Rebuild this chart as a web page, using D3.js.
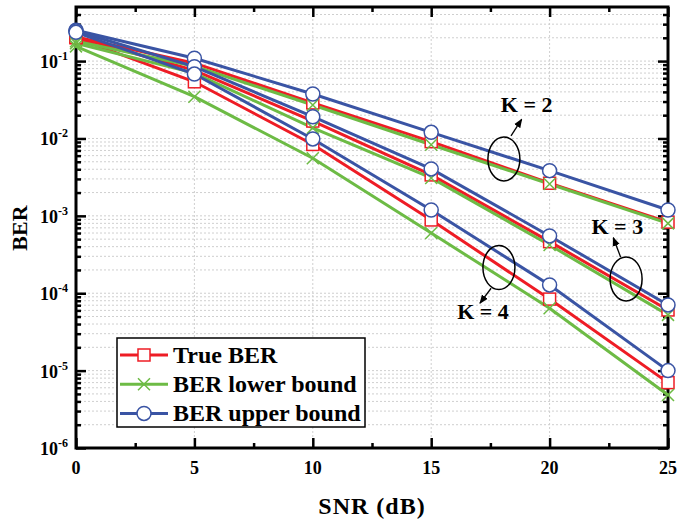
<!DOCTYPE html>
<html><head><meta charset="utf-8">
<script src="https://cdn.jsdelivr.net/npm/d3@7"></script>
<style>
html,body{margin:0;padding:0;background:#fff;}
svg{display:block;}
text{font-family:"Liberation Serif","Times New Roman",serif;font-weight:bold;fill:#000;}
</style></head>
<body>
<svg id="chart" width="677" height="519"></svg>
<script>
// ---- data ----
const snr = [0, 5, 10, 15, 20, 25];
const trueK2  = [0.205, 0.094, 0.0288, 0.0091, 0.00264, 0.00083];
const lowerK2 = [0.180, 0.086, 0.0271, 0.0083, 0.00258, 0.00080];
const upperK2 = [0.250, 0.109, 0.0376, 0.0120, 0.00384, 0.00119];
const trueK3  = [0.205, 0.076, 0.0168, 0.00338, 0.000464, 0.0000608];
const lowerK3 = [0.170, 0.070, 0.0137, 0.00309, 0.000420, 0.0000525];
const upperK3 = [0.245, 0.0847, 0.0191, 0.00404, 0.000550, 0.0000706];
const trueK4  = [0.200, 0.054, 0.00837, 0.000885, 0.0000840, 0.0000070];
const lowerK4 = [0.155, 0.0347, 0.00555, 0.000601, 0.0000640, 0.00000485];
const upperK4 = [0.235, 0.068, 0.00986, 0.00119, 0.000128, 0.0000100];
const seriesNames = ["True BER", "BER lower bound", "BER upper bound"];
const xTickValues = [0, 5, 10, 15, 20, 25];
const yTickExponents = [-6, -5, -4, -3, -2, -1];
const kLabels = ["K = 2", "K = 3", "K = 4"];
// annotation anchors in data space: ellipse centre, arrow start, arrow tip, label
const annotK2 = {c:[18.07, 5.43e-3], a0:[18.37, 1.08e-2], a1:[18.82, 1.77e-2], t:[19.03, 0.022]};
const annotK3 = {c:[23.23, 1.53e-4], a0:[23.00, 2.92e-4], a1:[22.69, 5.22e-4], t:[22.86, 5.83e-4]};
const annotK4 = {c:[17.86, 2.15e-4], a0:[17.53, 1.16e-4], a1:[17.06, 7.43e-5], t:[17.19, 4.61e-5]};

// ---- setup ----
const svg = d3.select("#chart");
const L = 76, R = 668, T = 7, B = 448;
const x = d3.scaleLinear().domain([0, 25]).range([L, R]);
const y = d3.scaleLog().domain([1e-6, 0.5]).range([B, T]);
const colors = {"True BER":"#ee1c25", "BER lower bound":"#6dbb45", "BER upper bound":"#3a54a4"};

// gridlines
const minorY = [];
for (let e = -6; e <= -1; e++) for (let k = 1; k <= 9; k++) { const v = k * Math.pow(10, e); if (v < 0.5) minorY.push(v); }
const grid = svg.append("g");
grid.selectAll("line.h").data(minorY.filter(v => v > 1e-6)).enter().append("line")
  .attr("x1", L).attr("x2", R).attr("y1", d => y(d)).attr("y2", d => y(d))
  .attr("stroke", "#cfcfcf").attr("stroke-width", 1).attr("stroke-dasharray", "2,2");
grid.selectAll("line.v").data([5, 10, 15, 20]).enter().append("line")
  .attr("x1", d => x(d)).attr("x2", d => x(d)).attr("y1", T).attr("y2", B)
  .attr("stroke", "#cfcfcf").attr("stroke-width", 1).attr("stroke-dasharray", "2,2");

// axes (inward ticks)
const majorY = yTickExponents.map(e => Math.pow(10, e));
const minorX = [2.5, 7.5, 12.5, 17.5, 22.5];
function styleAxis(g){ g.select(".domain").remove(); g.selectAll("line").attr("stroke","#000").attr("stroke-width",2.5); g.selectAll("text").remove(); }
svg.append("g").attr("transform", `translate(${L},0)`).call(d3.axisLeft(y).tickValues(majorY).tickSize(-10)).call(styleAxis);
svg.append("g").attr("transform", `translate(${L},0)`).call(d3.axisLeft(y).tickValues(minorY.filter(v=>majorY.indexOf(v)<0)).tickSize(-5)).call(styleAxis);
svg.append("g").attr("transform", `translate(${R},0)`).call(d3.axisRight(y).tickValues(majorY).tickSize(-10)).call(styleAxis);
svg.append("g").attr("transform", `translate(${R},0)`).call(d3.axisRight(y).tickValues(minorY.filter(v=>majorY.indexOf(v)<0)).tickSize(-5)).call(styleAxis);
svg.append("g").attr("transform", `translate(0,${B})`).call(d3.axisBottom(x).tickValues(xTickValues).tickSize(-10)).call(styleAxis);
svg.append("g").attr("transform", `translate(0,${B})`).call(d3.axisBottom(x).tickValues(minorX).tickSize(-5)).call(styleAxis);
svg.append("g").attr("transform", `translate(0,${T})`).call(d3.axisTop(x).tickValues(xTickValues).tickSize(-10)).call(styleAxis);
svg.append("g").attr("transform", `translate(0,${T})`).call(d3.axisTop(x).tickValues(minorX).tickSize(-5)).call(styleAxis);
svg.append("rect").attr("x", L).attr("y", T).attr("width", R - L).attr("height", B - T)
  .attr("fill", "none").attr("stroke", "#000").attr("stroke-width", 3);

// tick labels
svg.append("g").selectAll("text").data(xTickValues).enter().append("text")
  .attr("x", d => x(d)).attr("y", 474).attr("text-anchor", "middle").attr("font-size", 18).text(d => d);
const yl = svg.append("g").selectAll("text").data(yTickExponents).enter().append("text")
  .attr("x", 68).attr("y", d => y(Math.pow(10, d)) + 7).attr("text-anchor", "end").attr("font-size", 18);
yl.append("tspan").text("10");
yl.append("tspan").attr("dy", -8).attr("font-size", 12).text(d => String(d));

// axis titles
svg.append("text").attr("x", 372).attr("y", 514).attr("text-anchor", "middle").attr("font-size", 24)
  .attr("letter-spacing", 1).text("SNR (dB)");
svg.append("text").attr("transform", "translate(27,228) rotate(-90)").attr("text-anchor", "middle")
  .attr("font-size", 22).text("BER");

// markers
function drawMarker(g, name, size) {
  const c = colors[name];
  if (name === "True BER") {
    g.append("rect").attr("x", -size).attr("y", -size).attr("width", 2*size).attr("height", 2*size)
      .attr("fill", "#fff").attr("stroke", c).attr("stroke-width", 1.5);
  } else if (name === "BER lower bound") {
    g.append("path").attr("d", `M${-size},${-size}L${size},${size}M${-size},${size}L${size},${-size}`)
      .attr("stroke", c).attr("stroke-width", 1.5).attr("fill", "none");
  } else {
    g.append("circle").attr("r", size + 1).attr("fill", "#fff").attr("stroke", c).attr("stroke-width", 1.5);
  }
}

// series
const groups = [
  {name: "True BER", sets: [trueK2, trueK3, trueK4]},
  {name: "BER lower bound", sets: [lowerK2, lowerK3, lowerK4]},
  {name: "BER upper bound", sets: [upperK2, upperK3, upperK4]}
];
const line = d3.line().x(d => x(d[0])).y(d => y(d[1]));
const plot = svg.append("g");
groups.forEach(gr => {
  gr.sets.forEach(vals => {
    const pts = snr.map((s, i) => [s, vals[i]]);
    plot.append("path").attr("d", line(pts)).attr("fill", "none")
      .attr("stroke", colors[gr.name]).attr("stroke-width", 3);
  });
});
groups.forEach(gr => {
  gr.sets.forEach(vals => {
    snr.forEach((s, i) => {
      const g = plot.append("g").attr("transform", `translate(${x(s)},${y(vals[i])})`);
      drawMarker(g, gr.name, 6);
    });
  });
});

// annotations
svg.append("defs").append("marker").attr("id", "ah").attr("viewBox", "0 0 10 10").attr("refX", 9).attr("refY", 5)
  .attr("markerWidth", 7).attr("markerHeight", 7).attr("orient", "auto-start-reverse")
  .append("path").attr("d", "M0,1L10,5L0,9z").attr("fill", "#000");
[annotK2, annotK3, annotK4].forEach((a, i) => {
  svg.append("ellipse").attr("cx", x(a.c[0])).attr("cy", y(a.c[1])).attr("rx", 16).attr("ry", 22)
    .attr("fill", "none").attr("stroke", "#000").attr("stroke-width", 1.5);
  svg.append("line").attr("x1", x(a.a0[0])).attr("y1", y(a.a0[1])).attr("x2", x(a.a1[0])).attr("y2", y(a.a1[1]))
    .attr("stroke", "#000").attr("stroke-width", 1.3).attr("marker-end", "url(#ah)");
  svg.append("text").attr("x", x(a.t[0])).attr("y", y(a.t[1])).attr("text-anchor", "middle")
    .attr("font-size", 22).text(kLabels[i]);
});

// legend
const lg = svg.append("g");
lg.append("rect").attr("x", 117).attr("y", 338).attr("width", 248).attr("height", 89)
  .attr("fill", "#fff").attr("stroke", "#000").attr("stroke-width", 1.5);
seriesNames.forEach((n, i) => {
  const cy = 355 + i * 29.2;
  lg.append("line").attr("x1", 120).attr("x2", 168).attr("y1", cy).attr("y2", cy)
    .attr("stroke", colors[n]).attr("stroke-width", 3);
  drawMarker(lg.append("g").attr("transform", `translate(144,${cy})`), n, 6);
  lg.append("text").attr("x", 173).attr("y", cy + 8).attr("font-size", 24).text(n);
});
</script>
</body></html>
